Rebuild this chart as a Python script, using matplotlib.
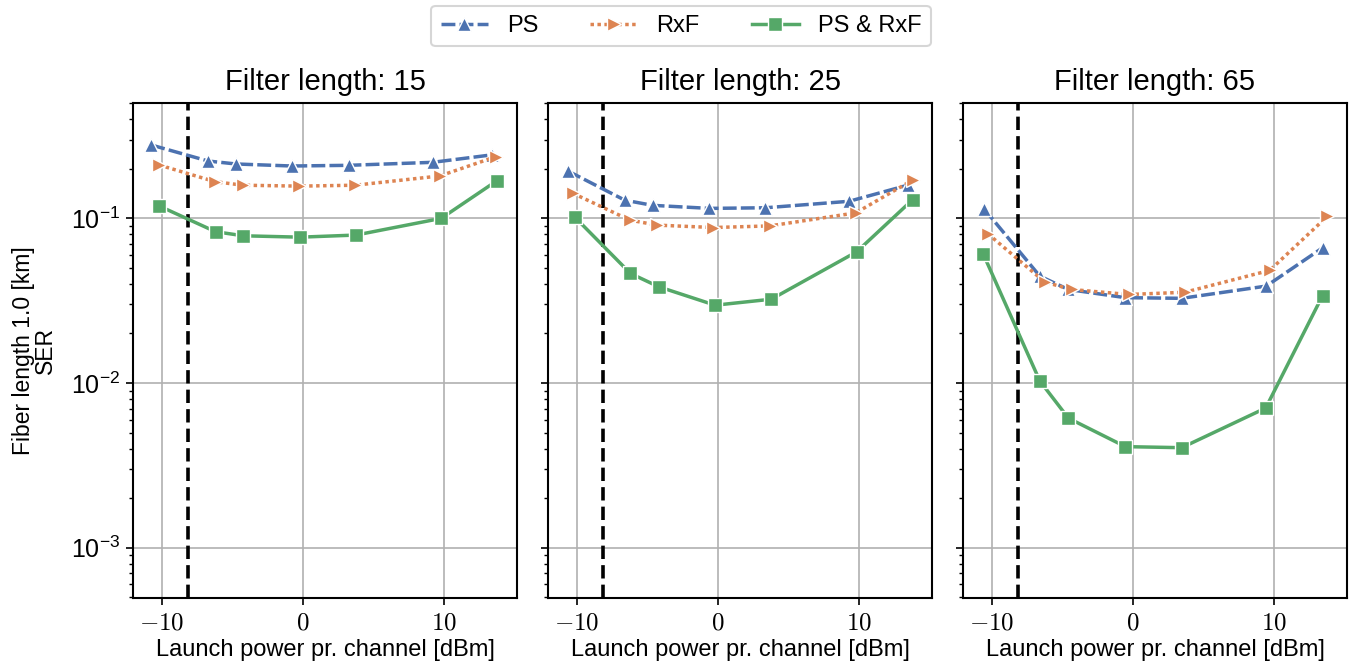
import matplotlib
matplotlib.use("Agg")
import matplotlib.pyplot as plt
from matplotlib.ticker import FuncFormatter, LogLocator, NullFormatter

plt.rcParams['font.family'] = ['Liberation Sans', 'DejaVu Sans']
plt.rcParams['mathtext.fontset'] = 'cm'

series_names = ["PS", "RxF", "PS & RxF"]
filter_lengths = [15, 25, 65]

# Panel: filter length 15
x_ps_15 = [-10.75, -6.72, -4.75, -0.78, 3.25, 9.22, 13.4]
y_ps_15 = [0.279, 0.223, 0.214, 0.208, 0.210, 0.219, 0.243]
x_rxf_15 = [-10.2, -6.22, -4.25, -0.24, 3.72, 9.72, 13.7]
y_rxf_15 = [0.211, 0.167, 0.159, 0.157, 0.159, 0.181, 0.237]
x_both_15 = [-10.2, -6.19, -4.23, -0.19, 3.77, 9.82, 13.76]
y_both_15 = [0.119, 0.083, 0.0784, 0.0769, 0.0792, 0.100, 0.169]

# Panel: filter length 25
x_ps_25 = [-10.64, -6.6, -4.63, -0.59, 3.38, 9.32, 13.47]
y_ps_25 = [0.194, 0.129, 0.120, 0.115, 0.116, 0.127, 0.159]
x_rxf_25 = [-10.28, -6.24, -4.3, -0.31, 3.68, 9.79, 13.83]
y_rxf_25 = [0.142, 0.0976, 0.091, 0.088, 0.090, 0.108, 0.171]
x_both_25 = [-10.16, -6.2, -4.18, -0.19, 3.8, 9.86, 13.83]
y_both_25 = [0.102, 0.0463, 0.0384, 0.0297, 0.0323, 0.0627, 0.130]

# Panel: filter length 65
x_ps_65 = [-10.57, -6.6, -4.57, -0.53, 3.47, 9.47, 13.47]
y_ps_65 = [0.1146, 0.0446, 0.037, 0.033, 0.0327, 0.0388, 0.0663]
x_rxf_65 = [-10.29, -6.24, -4.34, -0.29, 3.69, 9.71, 13.81]
y_rxf_65 = [0.0807, 0.041, 0.037, 0.0345, 0.0356, 0.0483, 0.103]
x_both_65 = [-10.6, -6.6, -4.57, -0.53, 3.47, 9.43, 13.47]
y_both_65 = [0.0604, 0.0103, 0.00612, 0.00411, 0.00405, 0.00705, 0.034]

threshold_x = -8.15

panels = [
    [(x_ps_15, y_ps_15), (x_rxf_15, y_rxf_15), (x_both_15, y_both_15)],
    [(x_ps_25, y_ps_25), (x_rxf_25, y_rxf_25), (x_both_25, y_both_25)],
    [(x_ps_65, y_ps_65), (x_rxf_65, y_rxf_65), (x_both_65, y_both_65)],
]

colors = ["#4C72B0", "#DD8452", "#55A868"]
markers = ["^", ">", "s"]
dashes = [(4, 1.2), (1, 1), None]

W, H = 1349, 671
fig = plt.figure(figsize=(W / 100, H / 100), dpi=100)
lefts = [133, 548, 963]
axw = 384
top, bottom = 103, 598

handles = []
for i, (left, data) in enumerate(zip(lefts, panels)):
    ax = fig.add_axes([left / W, 1 - bottom / H, axw / W, (bottom - top) / H])
    ax.set_yscale('log')
    ax.set_ylim(4.95e-4, 0.502)
    ax.set_xlim(-12.05, 15.2)
    ax.grid(True, which='major', color='#b0b0b0', linewidth=1.2)
    ax.set_axisbelow(True)
    ax.axvline(threshold_x, color='black', linestyle=(0, (3.7, 1.7)), linewidth=2.6, zorder=1.5)
    for k, (xs, ys) in enumerate(data):
        ln, = ax.plot(xs, ys, color=colors[k], marker=markers[k], markersize=10,
                      markeredgecolor='white', markeredgewidth=1.0,
                      linewidth=2.5, label=series_names[k], zorder=3)
        if dashes[k] is not None:
            ln.set_dashes(dashes[k])
        if i == 0:
            handles.append(ln)
    ax.set_xticks([-10, 0, 10])
    ax.xaxis.set_major_formatter(FuncFormatter(lambda v, p: r"$%d$" % v))
    ax.yaxis.set_major_locator(LogLocator(base=10, numticks=10))
    ax.yaxis.set_minor_locator(LogLocator(base=10, subs=range(2, 10), numticks=20))
    ax.yaxis.set_minor_formatter(NullFormatter())
    ax.tick_params(axis='both', which='major', labelsize=18, length=5, width=1.2, color='black', pad=4)
    ax.tick_params(axis='y', which='minor', length=3, width=1.0)
    if i > 0:
        ax.tick_params(axis='y', which='both', labelleft=False)
    for s in ax.spines.values():
        s.set_color('black')
        s.set_linewidth(1.5)
    ax.set_title("Filter length: %d" % filter_lengths[i], fontsize=21, pad=9)
    ax.set_xlabel("Launch power pr. channel [dBm]", fontsize=17, labelpad=3)
    if i == 0:
        ax.set_ylabel("Fiber length 1.0 [km]\nSER", fontsize=16.5, linespacing=0.95, labelpad=10)

leg = fig.legend(handles, series_names, loc='center', bbox_to_anchor=(681 / W, 1 - 26 / H),
                 ncol=3, fontsize=17, frameon=True, handlelength=2.0, columnspacing=2.2,
                 borderpad=0.4, handletextpad=0.8)
leg.get_frame().set_edgecolor('#cccccc')
leg.get_frame().set_linewidth(1.5)

fig.savefig("out.png", dpi=100)
